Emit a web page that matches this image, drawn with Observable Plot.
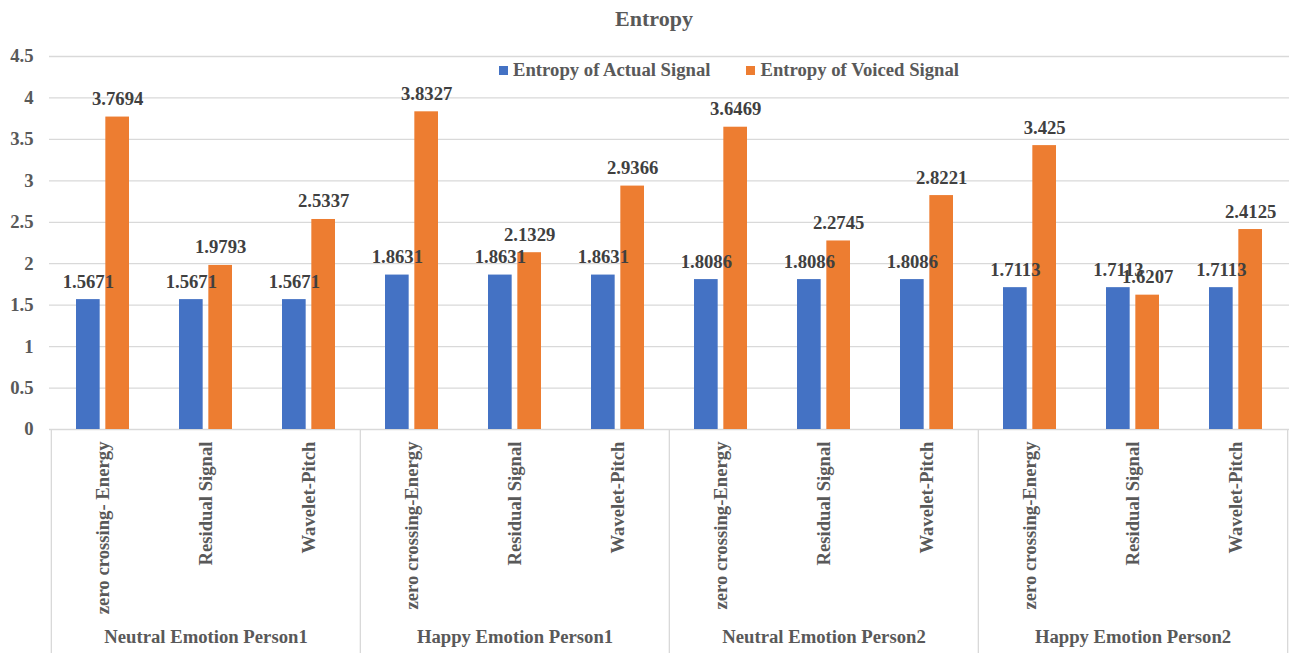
<!DOCTYPE html>
<html>
<head>
<meta charset="utf-8">
<script src="https://cdn.jsdelivr.net/npm/d3@7"></script>
<script src="https://cdn.jsdelivr.net/npm/@observablehq/plot@0.6"></script>
<style>
  html, body { margin: 0; padding: 0; background: #fff; }
  #chart { position: relative; width: 1293px; height: 653px; font-family: "Liberation Serif", "Times New Roman", serif; }
  #title { position: absolute; left: 0; width: 1308px; top: 6px; text-align: center; font-size: 22px; font-weight: bold; color: #595959; }
  #legend { position: absolute; top: 59px; left: 499px; display: flex; align-items: center; font-size: 18.7px; font-weight: bold; color: #595959; }
  .sw { display: inline-block; width: 9px; height: 9px; margin-right: 5px; }
  .item { display: flex; align-items: center; margin-right: 36px; }
</style>
</head>
<body>
<div id="chart">
  <div id="title">Entropy</div>
  <div id="legend"></div>
</div>
<script>
// Recording conditions (outer grouping) and feature extraction methods (inner categories)
const groups = ["Neutral Emotion Person1", "Happy Emotion Person1", "Neutral Emotion Person2", "Happy Emotion Person2"];
const methods = [
  ["zero crossing- Energy", "Residual Signal", "Wavelet-Pitch"],
  ["zero crossing-Energy", "Residual Signal", "Wavelet-Pitch"],
  ["zero crossing-Energy", "Residual Signal", "Wavelet-Pitch"],
  ["zero crossing-Energy", "Residual Signal", "Wavelet-Pitch"]
];
const seriesNames = ["Entropy of Actual Signal", "Entropy of Voiced Signal"];
const seriesColors = ["#4472C4", "#ED7D31"];
const actualEntropy = [1.5671, 1.5671, 1.5671, 1.8631, 1.8631, 1.8631, 1.8086, 1.8086, 1.8086, 1.7113, 1.7113, 1.7113];
const voicedEntropy = [3.7694, 1.9793, 2.5337, 3.8327, 2.1329, 2.9366, 3.6469, 2.2745, 2.8221, 3.425, 1.6207, 2.4125];
const yTicks = [0, 0.5, 1, 1.5, 2, 2.5, 3, 3.5, 4, 4.5];

// One row per inner category; the key keeps repeated method names distinct
const rows = [];
groups.forEach((g, gi) => methods[gi].forEach(m => rows.push({group: g, gi, key: `${gi}|${m}`, method: m})));
rows.forEach((r, i) => { r.actual = actualEntropy[i]; r.voiced = voicedEntropy[i]; });
const keys = rows.map(r => r.key);

const width = 1293, height = 653;
const marginLeft = 49, marginRight = 4, marginTop = 56, marginBottom = 224;
const bw = (width - marginLeft - marginRight) / keys.length; // band width
const barW = 24, outer = 25;
const farInset = bw - outer - barW;          // inset on the far side of each bar
const shift = bw / 2 - outer - barW / 2;     // label offset from the band centre

const groupRows = groups.map((g, gi) => {
  const members = rows.filter(r => r.gi === gi);
  return {group: g, start: members[0].key, mid: members[1].key};
});
const sepColor = "#d9d9d9";

const plot = Plot.plot({
  width, height, marginLeft, marginRight, marginTop, marginBottom,
  style: {fontFamily: "'Liberation Serif', 'Times New Roman', serif", fontSize: "18.7px", fontWeight: "bold", color: "#595959", background: "white"},
  x: {type: "band", domain: keys, padding: 0},
  y: {domain: [0, 4.5]},
  marks: [
    Plot.ruleY(yTicks, {stroke: sepColor, strokeWidth: 1.3}),
    Plot.axisY({ticks: yTicks, tickSize: 0, tickPadding: 16, tickFormat: d => String(d), label: null}),
    Plot.axisX({tickSize: 0, tickPadding: 12, tickRotate: -90, tickFormat: d => d.split("|")[1], label: null}),
    // Group separators in the category band below the axis
    Plot.ruleX(groupRows, {x: "start", dx: -bw / 2, y1: 0, y2: 0, insetBottom: -marginBottom, stroke: sepColor, strokeWidth: 1.3}),
    Plot.ruleX([keys[keys.length - 1]], {x: d => d, dx: bw / 2, y1: 0, y2: 0, insetBottom: -marginBottom, stroke: sepColor, strokeWidth: 1.3}),
    Plot.text(groupRows, {x: "mid", text: "group", frameAnchor: "bottom", dy: 213, fill: "#595959"}),
    // Bars
    Plot.barY(rows, {x: "key", y: "actual", fill: seriesColors[0], insetLeft: outer, insetRight: farInset}),
    Plot.barY(rows, {x: "key", y: "voiced", fill: seriesColors[1], insetLeft: farInset, insetRight: outer}),
    // Value labels
    Plot.text(rows, {x: "key", y: "actual", text: d => String(d.actual), dx: -shift, dy: -18, fill: "#404040"}),
    Plot.text(rows, {x: "key", y: "voiced", text: d => String(d.voiced), dx: shift, dy: -18, fill: "#404040"})
  ]
});
document.getElementById("chart").appendChild(plot);

// Legend
const legend = document.getElementById("legend");
seriesNames.forEach((name, i) => {
  const item = document.createElement("span");
  item.className = "item";
  const sw = document.createElement("span");
  sw.className = "sw";
  sw.style.background = seriesColors[i];
  item.appendChild(sw);
  item.appendChild(document.createTextNode(name));
  legend.appendChild(item);
});
</script>
</body>
</html>
